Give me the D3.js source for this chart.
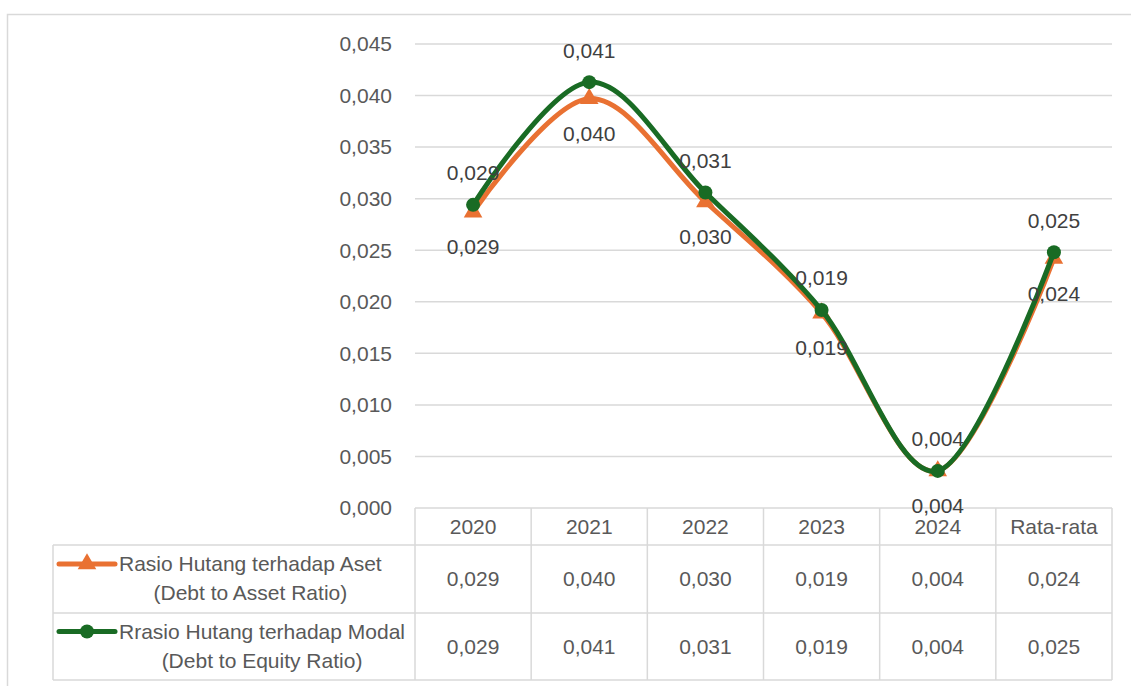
<!DOCTYPE html>
<html>
<head>
<meta charset="utf-8">
<script src="https://cdn.jsdelivr.net/npm/d3@7"></script>
<style>
  html, body { margin: 0; padding: 0; background: #fff; }
  svg { display: block; font-family: "Liberation Sans", Arial, sans-serif; }
</style>
</head>
<body>
<svg id="chart" width="1131" height="686"></svg>
<script>
// Categories shown on the x axis / table header
const categories = ["2020", "2021", "2022", "2023", "2024", "Rata-rata"];

// Debt to Asset Ratio
const debtToAsset = [0.0287, 0.0397, 0.0297, 0.0189, 0.0036, 0.0242];
// Debt to Equity Ratio
const debtToEquity = [0.0294, 0.0413, 0.0306, 0.0192, 0.0036, 0.0248];

const seriesNames = [
  ["Rasio Hutang terhadap Aset", "(Debt to Asset Ratio)"],
  ["Rrasio Hutang terhadap Modal", "(Debt to Equity Ratio)"]
];

const yTicks = [0, 0.005, 0.010, 0.015, 0.020, 0.025, 0.030, 0.035, 0.040, 0.045];

const series = [
  { name: seriesNames[0], values: debtToAsset, color: "#E97132", marker: "triangle", labelPos: "below" },
  { name: seriesNames[1], values: debtToEquity, color: "#196B24", marker: "circle", labelPos: "above" }
];

const fmt = v => d3.format(".3f")(v).replace(".", ",");

const svg = d3.select("#chart");
const W = 1131, H = 686;

// chart frame
svg.append("rect")
  .attr("x", 7.5).attr("y", 14.5)
  .attr("width", W + 20).attr("height", H + 20)
  .attr("fill", "#fff").attr("stroke", "#D9D9D9").attr("stroke-width", 1.5);

const plot = { left: 415, right: 1112, top: 44, bottom: 508 };
const table = { left: 53, headerBottom: 545, row1Bottom: 613, bottom: 680 };

const x = d3.scaleBand().domain(categories).range([plot.left, plot.right]);
const y = d3.scaleLinear().domain([0, 0.045]).range([plot.bottom, plot.top]);

// gridlines
svg.append("g").selectAll("line").data(yTicks).join("line")
  .attr("x1", plot.left).attr("x2", plot.right)
  .attr("y1", d => y(d)).attr("y2", d => y(d))
  .attr("stroke", "#D9D9D9").attr("stroke-width", 1.5);

// y axis labels
svg.append("g").selectAll("text").data(yTicks).join("text")
  .attr("x", 392).attr("y", d => y(d))
  .attr("dy", "0.35em")
  .attr("text-anchor", "end")
  .attr("font-size", 21).attr("fill", "#595959")
  .text(d => fmt(d));

// data table grid
const tg = svg.append("g").attr("stroke", "#D9D9D9").attr("stroke-width", 1.5);
const colEdges = categories.map(c => x(c)).concat([plot.right]);
colEdges.forEach(cx => {
  tg.append("line").attr("x1", cx).attr("x2", cx).attr("y1", plot.bottom).attr("y2", table.bottom);
});
tg.append("line").attr("x1", table.left).attr("x2", table.left).attr("y1", table.headerBottom).attr("y2", table.bottom);
[table.headerBottom, table.row1Bottom, table.bottom].forEach(ry => {
  tg.append("line").attr("x1", table.left).attr("x2", plot.right).attr("y1", ry).attr("y2", ry);
});

// header labels
svg.append("g").selectAll("text").data(categories).join("text")
  .attr("x", d => x(d) + x.bandwidth() / 2)
  .attr("y", (plot.bottom + table.headerBottom) / 2)
  .attr("dy", "0.35em")
  .attr("text-anchor", "middle")
  .attr("font-size", 21).attr("fill", "#595959")
  .text(d => d);

// table values
const rowCenters = [(table.headerBottom + table.row1Bottom) / 2, (table.row1Bottom + table.bottom) / 2];
series.forEach((s, i) => {
  svg.append("g").selectAll("text").data(s.values).join("text")
    .attr("x", (d, j) => x(categories[j]) + x.bandwidth() / 2)
    .attr("y", rowCenters[i])
    .attr("dy", "0.35em")
    .attr("text-anchor", "middle")
    .attr("font-size", 21).attr("fill", "#595959")
    .text(d => fmt(d));
});

// legend keys inside the table
series.forEach((s, i) => {
  const ly = rowCenters[i] - 15;
  const g = svg.append("g");
  g.append("line").attr("x1", 59).attr("x2", 115).attr("y1", ly).attr("y2", ly)
    .attr("stroke", s.color).attr("stroke-width", 5).attr("stroke-linecap", "round");
  if (s.marker === "circle") {
    g.append("circle").attr("cx", 87).attr("cy", ly).attr("r", 7).attr("fill", s.color);
  } else {
    g.append("path").attr("d", d3.symbol(d3.symbolTriangle, 150)())
      .attr("transform", `translate(87,${ly})`).attr("fill", s.color);
  }
  const t1 = g.append("text").attr("x", 119).attr("y", ly).attr("dy", "0.35em")
    .attr("font-size", 21).attr("fill", "#595959").text(s.name[0]);
  const w1 = t1.node().getComputedTextLength();
  g.append("text").attr("x", 119 + w1 / 2).attr("y", ly + 29).attr("dy", "0.35em")
    .attr("text-anchor", "middle")
    .attr("font-size", 21).attr("fill", "#595959").text(s.name[1]);
});

// lines, markers and value labels
const cx = (d, j) => x(categories[j]) + x.bandwidth() / 2;
const line = d3.line()
  .x((d, j) => cx(d, j))
  .y(d => y(d))
  .curve(d3.curveCardinal.tension(0));

series.forEach(s => {
  const g = svg.append("g");
  g.append("path").datum(s.values)
    .attr("d", line)
    .attr("fill", "none").attr("stroke", s.color)
    .attr("stroke-width", 5).attr("stroke-linecap", "round").attr("stroke-linejoin", "round");
  if (s.marker === "circle") {
    g.selectAll("circle").data(s.values).join("circle")
      .attr("cx", cx).attr("cy", d => y(d)).attr("r", 7).attr("fill", s.color);
  } else {
    g.selectAll("path.m").data(s.values).join("path").attr("class", "m")
      .attr("d", d3.symbol(d3.symbolTriangle, 150)())
      .attr("transform", (d, j) => `translate(${cx(d, j)},${y(d)})`)
      .attr("fill", s.color);
  }
});

series.forEach(s => {
  svg.append("g").selectAll("text").data(s.values).join("text")
    .attr("x", cx)
    .attr("y", d => y(d) + (s.labelPos === "above" ? -32 : 35))
    .attr("dy", "0.35em")
    .attr("text-anchor", "middle")
    .attr("font-size", 21).attr("fill", "#404040")
    .text(d => fmt(d));
});
</script>
</body>
</html>
